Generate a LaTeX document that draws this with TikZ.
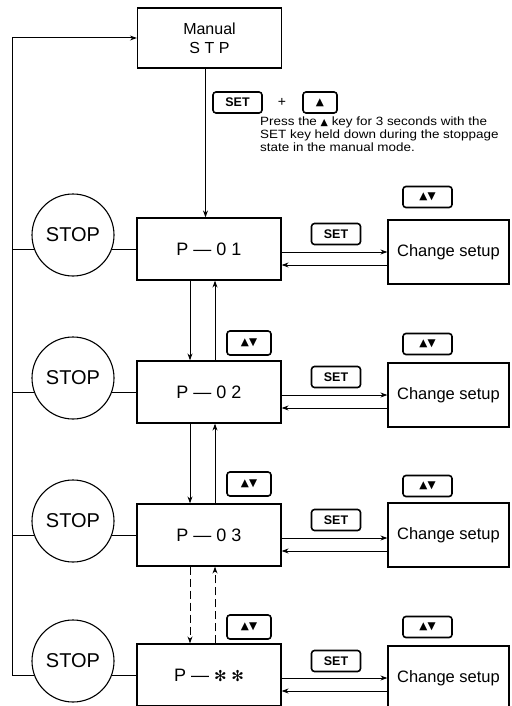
\documentclass[tikz,border=0pt]{standalone}
\usepackage{fontspec}
\setmainfont{Liberation Sans}
\newfontfamily\dejavu{DejaVu Sans}
\newfontfamily\notefont[FakeStretch=1.12]{Liberation Sans}
\usetikzlibrary{calc,positioning,arrows.meta}

\begin{document}
\begin{tikzpicture}[x=1pt, y=-1pt,
	state/.style={draw, line width=1.2pt, minimum width=144pt, minimum height=62pt, inner sep=0pt},
	stopc/.style={draw, circle, line width=1.1pt, minimum size=82pt, inner sep=0pt, font=\fontsize{20}{20}\selectfont},
	keybox/.style={draw, rounded corners=3pt, line width=1.6pt, minimum width=49pt, minimum height=21pt, inner sep=0pt, font=\fontsize{12.5}{12.5}\selectfont\bfseries},
	arrowkey/.style={font=\dejavu\fontsize{10.5}{10.5}\selectfont},
	link/.style={line width=1pt, -{Stealth[length=7pt, width=5pt]}},
	]
	\useasboundingbox (0,0) rectangle (511,706);

	% program states
	\node[state, align=center, minimum height=60pt, font=\fontsize{16}{19}\selectfont] at (209.5, 38) (manual) {Manual\\S T P};
	\node[state, font=\fontsize{18}{18}\selectfont] at (209, 249) (p1) {P — 0 1};
	\node[state, font=\fontsize{18}{18}\selectfont] at (209, 392) (p2) {P — 0 2};
	\node[state, font=\fontsize{18}{18}\selectfont] at (209, 535) (p3) {P — 0 3};
	\node[state, font=\fontsize{18}{18}\selectfont] at (209, 675) (p4) {P — {\dejavu\fontsize{15}{15}\selectfont ✻ ✻}};

	\node[stopc] at (73, 235) (s1) {STOP};
	\node[stopc] at (73, 378) (s2) {STOP};
	\node[stopc] at (73, 521) (s3) {STOP};
	\node[stopc] at (73, 661) (s4) {STOP};

	\node[state, minimum width=121pt, minimum height=64pt, font=\fontsize{16.5}{16.5}\selectfont] at (448.5, 252) (c1) {Change setup};
	\node[state, minimum width=121pt, minimum height=64pt, font=\fontsize{16.5}{16.5}\selectfont] at (448.5, 395) (c2) {Change setup};
	\node[state, minimum width=121pt, minimum height=64pt, font=\fontsize{16.5}{16.5}\selectfont] at (448.5, 535) (c3) {Change setup};
	\node[state, minimum width=121pt, minimum height=64pt, font=\fontsize{16.5}{16.5}\selectfont] at (448.5, 678) (c4) {Change setup};

	% keys
	\node[keybox] at (237.5, 102.5) (kset) {SET};
	\node[font=\fontsize{14}{14}\selectfont] at (282, 102) (plus) {+};
	\node[keybox, minimum width=34pt, arrowkey] at (320, 102.5) (kup) {▲};
	\node[anchor=north west, align=left, inner sep=0pt, font=\notefont\fontsize{12}{13}\selectfont] at (260, 117) (note) {Press the {\dejavu\fontsize{9.5}{9.5}\selectfont ▲} key for 3 seconds with the\\SET key held down during the stoppage\\state in the manual mode.};

	\node[keybox] at (336, 234) (set1) {SET};
	\node[keybox] at (336, 377) (set2) {SET};
	\node[keybox] at (336, 520) (set3) {SET};
	\node[keybox] at (336, 661) (set4) {SET};

	\node[keybox, arrowkey] at (427.5, 197) (ud1) {▲▼};
	\node[keybox, arrowkey] at (427.5, 344) (ud2) {▲▼};
	\node[keybox, arrowkey] at (427.5, 486) (ud3) {▲▼};
	\node[keybox, arrowkey] at (427.5, 627) (ud4) {▲▼};

	\node[keybox, arrowkey, minimum width=44pt, minimum height=24pt] at (249, 343) (mv2) {▲▼};
	\node[keybox, arrowkey, minimum width=44pt, minimum height=24pt] at (249, 484) (mv3) {▲▼};
	\node[keybox, arrowkey, minimum width=44pt, minimum height=24pt] at (249, 627) (mv4) {▲▼};

	% manual -> first parameter
	\draw[link] ([xshift=-4pt]manual.south) -- ([xshift=-4pt]manual.south |- p1.north);

	% scroll between parameters
	\draw[link] ([xshift=-19pt]p1.south) -- ([xshift=-19pt]p2.north);
	\draw[link] ([xshift=6pt]p2.north) -- ([xshift=6pt]p1.south);
	\draw[link] ([xshift=-19pt]p2.south) -- ([xshift=-19pt]p3.north);
	\draw[link] ([xshift=6pt]p3.north) -- ([xshift=6pt]p2.south);
	\draw[link, dash pattern=on 8pt off 4pt] ([xshift=-19pt]p3.south) -- ([xshift=-19pt]p4.north);
	\draw[link, dash pattern=on 8pt off 4pt] ([xshift=6pt]p4.north) -- ([xshift=6pt]p3.south);

	% set / back
	\draw[link] ([yshift=-3pt]p1.east) -- ([yshift=-3pt]p1.east -| c1.west);
	\draw[link] ([yshift=-16pt]p1.east -| c1.west) -- ([yshift=-16pt]p1.east);
	\draw[link] ([yshift=-3pt]p2.east) -- ([yshift=-3pt]p2.east -| c2.west);
	\draw[link] ([yshift=-16pt]p2.east -| c2.west) -- ([yshift=-16pt]p2.east);
	\draw[link] ([yshift=-3pt]p3.east) -- ([yshift=-3pt]p3.east -| c3.west);
	\draw[link] ([yshift=-16pt]p3.east -| c3.west) -- ([yshift=-16pt]p3.east);
	\draw[link] ([yshift=-3pt]p4.east) -- ([yshift=-3pt]p4.east -| c4.west);
	\draw[link] ([yshift=-16pt]p4.east -| c4.west) -- ([yshift=-16pt]p4.east);

	% stop lines and return to manual
	\coordinate (fb) at (12, 38);
	\draw[line width=1pt] (s1.200 -| fb) -- (s1.200);
	\draw[line width=1pt] (s2.200 -| fb) -- (s2.200);
	\draw[line width=1pt] (s3.200 -| fb) -- (s3.200);
	\draw[line width=1pt] (s1.340) -- (s1.340 -| p1.west);
	\draw[line width=1pt] (s2.340) -- (s2.340 -| p2.west);
	\draw[line width=1pt] (s3.340) -- (s3.340 -| p3.west);
	\draw[line width=1pt] (s4.340) -- (s4.340 -| p4.west);
	\draw[link] (s4.200) -- (s4.200 -| fb) -- (fb) -- (manual.west);
\end{tikzpicture}
\end{document}
